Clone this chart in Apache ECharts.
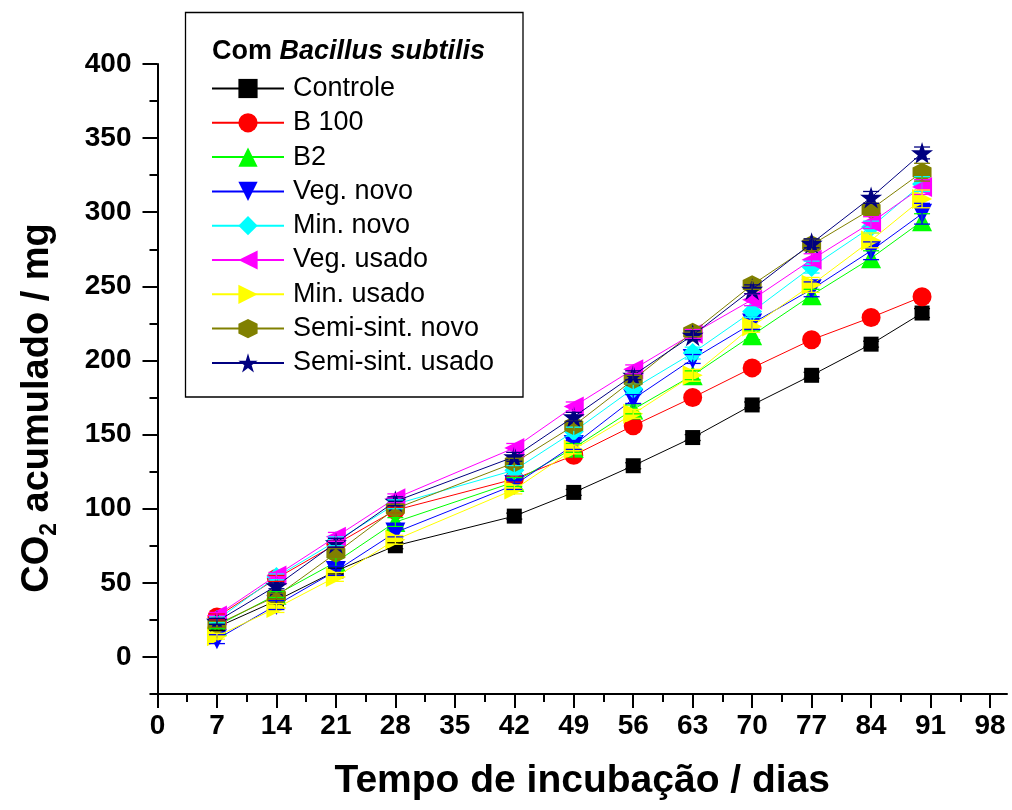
<!DOCTYPE html>
<html>
<head>
<meta charset="utf-8">
<script src="https://cdn.jsdelivr.net/npm/echarts@6/dist/echarts.min.js"></script>
<style>html,body{margin:0;padding:0;background:#fff}#c{width:1012px;height:810px}</style>
</head>
<body>
<div id="c"></div>
<script>
const days = [7, 14, 21, 28, 42, 49, 56, 63, 70, 77, 84, 90];
const controle   = [20, 38, 58, 75, 95, 111, 129, 148, 170, 190, 211, 232];
const b100       = [27, 53, 76, 99, 120, 136, 156, 175, 195, 214, 229, 243];
const b2         = [21, 42, 64, 91, 118, 141, 167, 190, 217, 244, 269, 294];
const vegNovo    = [12, 35, 58, 84, 116, 143, 174, 201, 225, 248, 274, 299];
const minNovo    = [25, 54, 78, 103, 126, 152, 181, 205, 233, 263, 290, 319];
const vegUsado   = [28, 55, 81, 107, 141, 169, 194, 218, 241, 268, 293, 317];
const minUsado   = [14, 33, 54, 79, 113, 140, 164, 190, 223, 251, 281, 309];
const semiNovo   = [22, 41, 70, 100, 131, 156, 187, 219, 251, 278, 302, 327];
const semiUsado  = [24, 48, 77, 105, 135, 162, 190, 217, 248, 279, 310, 340];
// error bar half-widths (estimated)
const errControle  = [2, 2, 2, 2, 2, 2, 2, 2, 2, 2, 2, 3];
const errB100      = [2, 2, 2, 2, 2, 2, 2, 2, 2, 2, 2, 3];
const errB2        = [2, 2, 3, 3, 3, 3, 3, 3, 3, 4, 5, 5];
const errVegNovo   = [3, 3, 3, 3, 3, 3, 3, 3, 4, 5, 6, 7];
const errMinNovo   = [2, 2, 3, 3, 3, 3, 3, 4, 4, 4, 4, 5];
const errVegUsado  = [2, 2, 3, 3, 3, 3, 3, 3, 4, 4, 4, 5];
const errMinUsado  = [2, 3, 3, 3, 3, 3, 3, 4, 4, 5, 5, 6];
const errSemiNovo  = [2, 2, 3, 3, 3, 3, 3, 3, 3, 4, 4, 6];
const errSemiUsado = [2, 2, 3, 3, 3, 3, 3, 3, 3, 3, 4, 4];
const seriesNames = ['Controle', 'B 100', 'B2', 'Veg. novo', 'Min. novo', 'Veg. usado', 'Min. usado', 'Semi-sint. novo', 'Semi-sint. usado'];
const xMajorTicks = [0, 7, 14, 21, 28, 35, 42, 49, 56, 63, 70, 77, 84, 91, 98];
const xMinorTicks = [3.5, 10.5, 17.5, 24.5, 31.5, 38.5, 45.5, 52.5, 59.5, 66.5, 73.5, 80.5, 87.5, 94.5];
const yMajorTicks = [0, 50, 100, 150, 200, 250, 300, 350, 400];
const yMinorTicks = [-25, 25, 75, 125, 175, 225, 275, 325, 375];

const FONT = '"Liberation Sans", Arial, sans-serif';
const hexPath = 'path://M0,-1 L0.866,-0.5 L0.866,0.5 L0,1 L-0.866,0.5 L-0.866,-0.5 Z';
const starPath = 'path://M0,-1 L0.2245,-0.309 L0.951,-0.309 L0.363,0.118 L0.588,0.809 L0,0.382 L-0.588,0.809 L-0.363,0.118 L-0.951,-0.309 L-0.2245,-0.309 Z';

const seriesValues = [controle, b100, b2, vegNovo, minNovo, vegUsado, minUsado, semiNovo, semiUsado];
const seriesErrors = [errControle, errB100, errB2, errVegNovo, errMinNovo, errVegUsado, errMinUsado, errSemiNovo, errSemiUsado];
const styles = [
  {color: '#000000', symbol: 'rect', size: 15, rot: 0},
  {color: '#ff0000', symbol: 'circle', size: 19, rot: 0},
  {color: '#00ff00', symbol: 'triangle', size: 20, rot: 0},
  {color: '#0000ff', symbol: 'triangle', size: 20, rot: 180},
  {color: '#00ffff', symbol: 'diamond', size: 20, rot: 0},
  {color: '#ff00ff', symbol: 'triangle', size: 20, rot: 90},
  {color: '#ffff00', symbol: 'triangle', size: 20, rot: -90},
  {color: '#808000', symbol: hexPath, size: 19, rot: 0},
  {color: '#000080', symbol: starPath, size: 22, rot: 0}
];

const series = [];
seriesValues.forEach((vals, i) => {
  series.push({
    name: seriesNames[i],
    type: 'line',
    xAxisIndex: 0,
    yAxisIndex: 0,
    data: days.map((d, j) => [d, vals[j]]),
    symbol: styles[i].symbol,
    symbolSize: styles[i].size,
    symbolRotate: styles[i].rot,
    showAllSymbol: true,
    color: styles[i].color,
    lineStyle: {color: styles[i].color, width: 1},
    itemStyle: {color: styles[i].color},
    emphasis: {disabled: true},
    animation: false,
    z: 2 + i * 0.01
  });
});
seriesValues.forEach((vals, i) => {
  const errs = seriesErrors[i];
  series.push({
    name: seriesNames[i] + ' err',
    type: 'custom',
    xAxisIndex: 0,
    yAxisIndex: 0,
    data: days.map((d, j) => [d, vals[j] - errs[j], vals[j] + errs[j]]),
    encode: {x: 0, y: [1, 2]},
    z: 3,
    silent: true,
    animation: false,
    renderItem: function (params, api) {
      const lo = api.coord([api.value(0), api.value(1)]);
      const hi = api.coord([api.value(0), api.value(2)]);
      const hw = 8;
      const st = {stroke: styles[i].color, lineWidth: 1.3};
      return {
        type: 'group',
        children: [
          {type: 'line', shape: {x1: lo[0], y1: lo[1], x2: hi[0], y2: hi[1]}, style: st},
          {type: 'line', shape: {x1: lo[0] - hw, y1: lo[1], x2: lo[0] + hw, y2: lo[1]}, style: st},
          {type: 'line', shape: {x1: hi[0] - hw, y1: hi[1], x2: hi[0] + hw, y2: hi[1]}, style: st}
        ]
      };
    }
  });
});

const axisLineStyle = {show: true, onZero: false, lineStyle: {color: '#000', width: 2}};

const option = {
  animation: false,
  backgroundColor: '#ffffff',
  grid: {left: 157.5, right: 5, top: 64, bottom: 116, containLabel: false},
  title: {
    text: '{a|Com }{b|Bacillus subtilis}',
    left: 212, top: 38, padding: 0,
    textStyle: {
      rich: {
        a: {fontFamily: FONT, fontWeight: 'bold', fontSize: 27, color: '#000'},
        b: {fontFamily: FONT, fontWeight: 'bold', fontStyle: 'italic', fontSize: 27, color: '#000'}
      }
    }
  },
  legend: {
    orient: 'vertical',
    left: 211, top: 75,
    padding: 0,
    itemWidth: 72,
    itemHeight: 24,
    itemGap: 7.3,
    data: seriesNames,
    textStyle: {fontFamily: FONT, fontSize: 27, color: '#000', lineHeight: 27, padding: [0, 0, 0, 4]},
    selectedMode: false
  },
  graphic: [{
    type: 'rect', z: 0,
    shape: {x: 185.5, y: 12.5, width: 337.5, height: 384.5},
    style: {fill: '#fff', stroke: '#000', lineWidth: 1.3}
  }],
  xAxis: [{
    type: 'value', min: 0, max: 100, position: 'bottom',
    name: 'Tempo de incubação / dias',
    nameLocation: 'middle', nameGap: 68,
    nameTextStyle: {fontFamily: FONT, fontWeight: 'bold', fontSize: 39, color: '#000'},
    axisLine: axisLineStyle,
    axisTick: {show: true, inside: false, length: 14, customValues: xMajorTicks, lineStyle: {color: '#000', width: 2}},
    axisLabel: {show: true, customValues: xMajorTicks, margin: 18, fontFamily: FONT, fontWeight: 'bold', fontSize: 28, color: '#000'},
    splitLine: {show: false}
  }, {
    type: 'value', min: 0, max: 100, position: 'bottom',
    axisLine: {show: false, onZero: false},
    axisTick: {show: true, inside: false, length: 8, customValues: xMinorTicks, lineStyle: {color: '#000', width: 2}},
    axisLabel: {show: false},
    splitLine: {show: false}
  }],
  yAxis: [{
    type: 'value', min: -25, max: 400, position: 'left',
    name: '{a|CO}{s|2}{a| acumulado / mg}',
    nameLocation: 'middle', nameGap: 96, nameRotate: 90,
    nameTextStyle: {
      padding: [0, 58, 0, 0],
      rich: {
        a: {fontFamily: FONT, fontWeight: 'bold', fontSize: 38, color: '#000'},
        s: {fontFamily: FONT, fontWeight: 'bold', fontSize: 23, color: '#000', verticalAlign: 'top', padding: [24, 0, 0, 0]}
      }
    },
    axisLine: axisLineStyle,
    axisTick: {show: true, inside: false, length: 15, customValues: yMajorTicks, lineStyle: {color: '#000', width: 2}},
    axisLabel: {show: true, customValues: yMajorTicks, margin: 26, fontFamily: FONT, fontWeight: 'bold', fontSize: 28, color: '#000'},
    splitLine: {show: false}
  }, {
    type: 'value', min: -25, max: 400, position: 'left',
    axisLine: {show: false, onZero: false},
    axisTick: {show: true, inside: false, length: 8, customValues: yMinorTicks, lineStyle: {color: '#000', width: 2}},
    axisLabel: {show: false},
    splitLine: {show: false}
  }],
  series: series
};

const chart = echarts.init(document.getElementById('c'), null, {renderer: 'canvas'});
chart.setOption(option);
</script>
</body>
</html>
